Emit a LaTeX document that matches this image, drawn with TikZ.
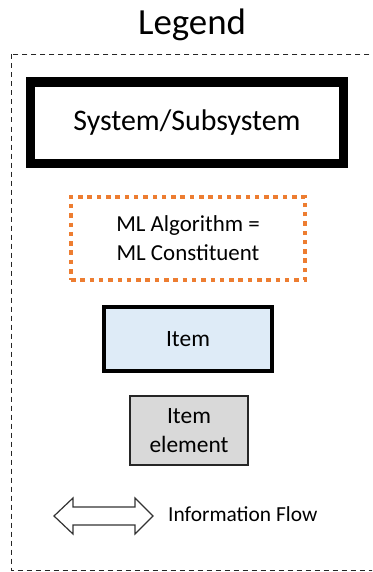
\documentclass[tikz,border=0pt]{standalone}
\usepackage{fontspec}
\setmainfont{Carlito}
\definecolor{mlorange}{HTML}{ED7D31}
\definecolor{itemblue}{HTML}{DEEBF7}
\definecolor{elemgray}{HTML}{D9D9D9}
\tikzset{
  sysbox/.style={draw=black, line width=9.5bp, fill=white, inner sep=0pt, align=center,
    font=\fontsize{30}{35}\selectfont},
  mlbox/.style={draw=mlorange, line width=4.5bp, dash pattern=on 4.5bp off 4.8bp, inner sep=0pt,
    align=center, font=\fontsize{23}{29}\selectfont},
  itembox/.style={draw=black, line width=4.5bp, fill=itemblue, inner sep=0pt, align=center,
    font=\fontsize{23.5}{29}\selectfont},
  elembox/.style={draw=black!85, line width=1.3bp, fill=elemgray, inner sep=0pt, align=center,
    font=\fontsize{23.5}{29}\selectfont},
  legendborder/.style={draw=black!85, line width=1.2bp, dash pattern=on 5bp off 4bp},
  flowarrow/.style={draw=black!80, line width=1.2bp, fill=white, line join=miter},
}
\begin{document}
\begin{tikzpicture}[x=1bp,y=-1bp]
\clip (0,0) rectangle (372,572);
\fill[white] (0,0) rectangle (372,572);
\node[anchor=base, inner sep=0pt, font=\fontsize{37}{40}\selectfont] (title) at (192,34.5) {Legend};
\draw[legendborder] (11.5,54.5) rectangle (390,570.5);
\node[sysbox, minimum width=313bp, minimum height=81.5bp] (sys) at (187,122.75) {System/Subsystem};
\node[mlbox, minimum width=234bp, minimum height=83bp] (ml) at (188,238.5) {ML Algorithm =\\ML Constituent};
\node[itembox, minimum width=168bp, minimum height=64bp] (item) at (188,339) {Item};
\node[elembox, minimum width=118bp, minimum height=69bp] (elem) at (189,430.5) {Item\\element};
\coordinate (al) at (54,516);
\coordinate (ar) at (153,516);
\draw[flowarrow] (al) -- (73,498) -- (73,507) -- (135,507) -- (135,498) -- (ar)
  -- (135,534) -- (135,525) -- (73,525) -- (73,534) -- cycle;
\node[anchor=base west, inner sep=0pt, font=\fontsize{21.5}{25}\selectfont] (flow) at (168,521.7) {Information Flow};
\end{tikzpicture}
\end{document}
